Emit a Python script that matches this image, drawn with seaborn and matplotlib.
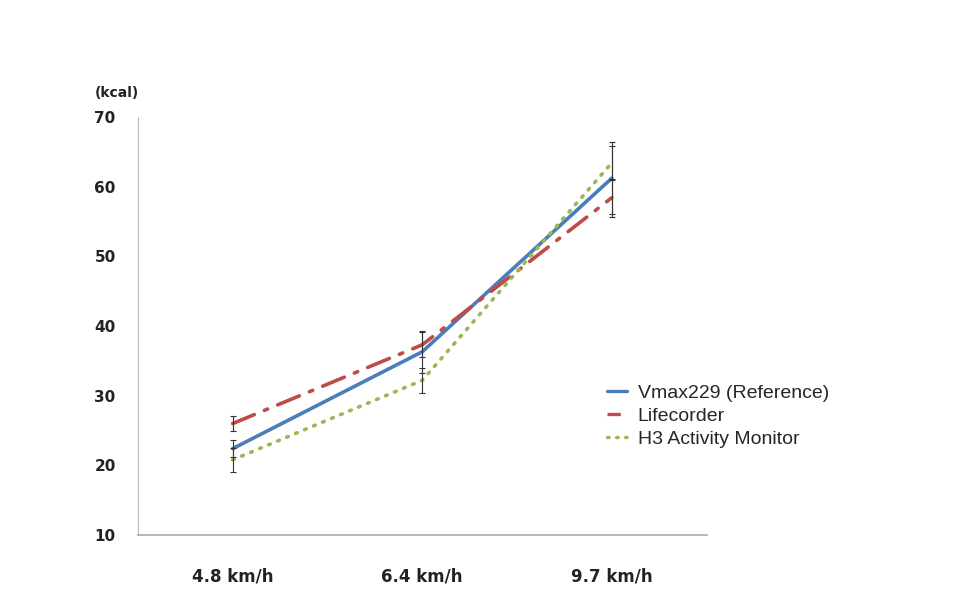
import numpy as np
import pandas as pd
import matplotlib
matplotlib.use("Agg")
import matplotlib.pyplot as plt
import seaborn as sns
from matplotlib.lines import Line2D

speeds = ["4.8 km/h", "6.4 km/h", "9.7 km/h"]
series_names = ["Vmax229 (Reference)", "Lifecorder", "H3 Activity Monitor"]
vmax = [22.4, 36.3, 61.2]
lifecorder = [26.0, 37.3, 58.4]
h3 = [20.8, 32.2, 63.4]
vmax_err = [1.2, 3.0, 5.2]
lifecorder_err = [1.1, 1.8, 2.7]
h3_err = [1.7, 1.8, 2.4]
yticks = [10, 20, 30, 40, 50, 60, 70]

sns.set_theme(style="white")
plt.rcParams['font.family'] = ['DejaVu Sans']

rows = []
for name, vals in zip(series_names, [vmax, lifecorder, h3]):
    for i, v in enumerate(vals):
        rows.append({"speed": speeds[i], "idx": i, "kcal": v, "series": name})
df = pd.DataFrame(rows)

colors = {"Vmax229 (Reference)": "#4a7ebb",
          "Lifecorder": "#be4b48",
          "H3 Activity Monitor": "#98b954"}
dashes = {"Vmax229 (Reference)": "",
          "Lifecorder": (6.5, 3, 1, 3),
          "H3 Activity Monitor": (0.5, 2.2)}

fig = plt.figure(figsize=(9.64, 5.9), dpi=100)
ax = fig.add_axes([0.143, 0.093, 0.590, 0.709])

sns.lineplot(data=df, x="idx", y="kcal", hue="series", style="series",
             palette=colors, dashes=dashes, linewidth=2.6, ax=ax,
             legend=False, sort=False)
for line in ax.lines:
    line.set_dash_capstyle("round")

for vals, errs in zip([vmax, lifecorder, h3], [vmax_err, lifecorder_err, h3_err]):
    ax.errorbar(range(len(speeds)), vals, yerr=errs, fmt="none",
                ecolor="#333333", elinewidth=0.8, capsize=2.5, capthick=0.8, zorder=5)

ax.set_xlim(-0.5, 2.5)
ax.set_ylim(10, 70)
ax.set_yticks(yticks)
ax.set_yticklabels([str(t) for t in yticks], fontweight="bold", fontsize=11, color="#222222")
ax.set_xticks([-0.5, 0.5, 1.5, 2.5], minor=False)
ax.set_xticklabels([])
ax.set_xticks(range(len(speeds)), minor=True)
ax.set_xticklabels(speeds, minor=True, fontweight="bold", fontsize=12, color="#222222")
ax.tick_params(axis="x", which="minor", length=0, pad=23)
ax.tick_params(axis="x", which="major", length=4, color="#bbbbbb", direction="out")
ax.tick_params(axis="y", length=4, color="#d0d0d0", direction="out", pad=12)
ax.set_xlabel("")
ax.set_ylabel("")
for s in ["top", "right"]:
    ax.spines[s].set_visible(False)
ax.spines["left"].set_color("#bbbbbb")
ax.spines["bottom"].set_color("#aaaaaa")
ax.spines["left"].set_linewidth(0.8)
ax.spines["bottom"].set_linewidth(1.2)

fig.text(0.098, 0.835, "(kcal)", fontsize=10, fontweight="bold", color="#222222")

handles = [Line2D([0], [0], color=colors[series_names[0]], lw=2.4, linestyle="-"),
           Line2D([0], [0], color=colors[series_names[1]], lw=2.4, linestyle=(0, (4, 10)),
                  dash_capstyle="butt"),
           Line2D([0], [0], color=colors[series_names[2]], lw=2.4, linestyle=(0, (0.5, 2.2)),
                  dash_capstyle="round")]
fig.legend(handles, series_names, loc="upper left", bbox_to_anchor=(0.622, 0.362),
           frameon=False, prop={"family": "Liberation Sans", "size": 14},
           handlelength=1.0, handletextpad=0.55,
           labelspacing=0.28, borderaxespad=0)

fig.savefig("out.png", dpi=100, facecolor="white")
